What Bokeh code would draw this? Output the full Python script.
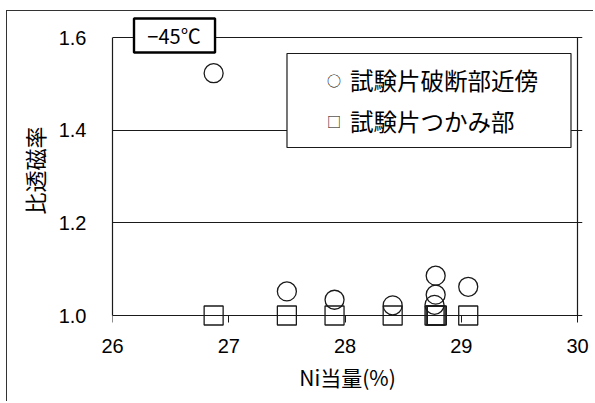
from bokeh.plotting import figure
from bokeh.models import Range1d, FixedTicker, Label, BoxAnnotation, LinearAxis
from bokeh.embed import file_html
from bokeh.resources import INLINE

# data
near_x = [26.87, 27.50, 27.91, 28.41, 28.78, 28.78, 28.77, 29.06]
near_y = [1.523, 1.052, 1.034, 1.022, 1.086, 1.045, 1.023, 1.062]
grip_x = [26.87, 27.50, 27.91, 28.41, 28.77, 28.78, 28.79, 29.06]
grip_y = [1.0, 1.0, 1.0, 1.0, 1.0, 1.0, 1.0, 1.0]
x_ticks = [26, 27, 28, 29, 30]
y_ticks = [1.0, 1.2, 1.4, 1.6]
x_title = "Ni当量(%)"
y_title = "比透磁率"
legend_near = "試験片破断部近傍"
legend_grip = "試験片つかみ部"
temp_label = "−45℃"

INK = "#1a1a1a"
CJK = "Noto Sans CJK JP"
X0, X1 = 26, 30
Y0, Y1 = 1.0, 1.6

p = figure(width=587, height=391, output_backend="svg", toolbar_location=None,
           x_range=Range1d(26, 30.043), y_range=Range1d(0.97626, 1.6497),
           min_border_left=105, min_border_right=12, min_border_top=3, min_border_bottom=76,
           styles={"margin-left": "6px", "margin-top": "10px",
                   "border-left": "1.5px solid #333333", "border-top": "1.5px solid #333333"})
p.background_fill_color = "white"
p.border_fill_color = "white"
p.outline_line_color = None

for ax in (p.xaxis[0], p.yaxis[0]):
    ax.axis_line_color = INK
    ax.axis_line_width = 1.2
    ax.major_tick_line_color = INK
    ax.major_tick_line_width = 1
    ax.major_tick_in = 7
    ax.major_tick_out = 0
    ax.minor_tick_line_color = None
    ax.major_label_text_font = "Liberation Sans"
    ax.major_label_text_font_size = "20px"
    ax.major_label_text_color = "black"
    ax.axis_label_text_font = CJK
    ax.axis_label_text_font_style = "normal"
    ax.axis_label_text_color = "black"

# bottom axis: tick labels and title only (sits at the frame bottom, just under y=1.0)
p.xaxis.ticker = FixedTicker(ticks=x_ticks)
p.xaxis.axis_line_color = None
p.xaxis.major_tick_line_color = None
p.xaxis.axis_label = x_title
p.xaxis.axis_label_text_font_size = "21px"
p.xaxis.major_label_standoff = 12
p.xaxis.axis_label_standoff = 6

p.yaxis.ticker = FixedTicker(ticks=y_ticks)
p.yaxis.major_label_overrides = {v: f"{v:.1f}" for v in y_ticks}
p.yaxis.major_tick_line_color = None
p.yaxis.bounds = (Y0, Y1)
p.yaxis.axis_label = y_title
p.yaxis.axis_label_text_font_size = "22px"
p.yaxis.major_label_standoff = 26
p.yaxis.axis_label_standoff = 6

# x axis line with inward ticks, drawn at y = 1.0
xline = LinearAxis(fixed_location=Y0, bounds=(X0, X1), ticker=FixedTicker(ticks=x_ticks),
                   axis_line_color=INK, axis_line_width=1.2,
                   major_tick_line_color=INK, major_tick_in=7, major_tick_out=0,
                   minor_tick_line_color=None, major_label_standoff=0,
                   major_label_text_font_size="0px", major_label_text_color=None)
p.add_layout(xline, "above")

# right frame edge
right = LinearAxis(fixed_location=X1, bounds=(Y0, Y1), ticker=FixedTicker(ticks=[]),
                   axis_line_color=INK, axis_line_width=1.2,
                   major_tick_line_color=None, minor_tick_line_color=None,
                   major_label_text_font_size="0px")
p.add_layout(right, "right")

p.xgrid.grid_line_color = None
p.ygrid.grid_line_color = INK
p.ygrid.grid_line_width = 1.0
p.ygrid.bounds = (X0, X1)

p.scatter(grip_x, grip_y, marker="square", size=19, fill_alpha=0,
          line_color=INK, line_width=1.3)
p.scatter(near_x, near_y, marker="circle", size=19, fill_alpha=0,
          line_color=INK, line_width=1.3)

# legend box (text-style legend as in the original)
p.add_layout(BoxAnnotation(left=27.501, right=29.944, top=1.5655, bottom=1.3626,
                           fill_color="white", fill_alpha=1.0,
                           line_color=INK, line_alpha=1.0, line_width=1.2))
for yy, sym, txt in ((1.5085, "○", legend_near), (1.4200, "□", legend_grip)):
    p.add_layout(Label(x=27.845, y=yy, text=sym, text_font=CJK, text_font_size="14px",
                       text_baseline="middle", text_align="left", text_color="black"))
    p.add_layout(Label(x=28.043, y=yy, text=txt, text_font=CJK, text_font_size="23.5px",
                       text_baseline="middle", text_align="left", text_color="black"))

# temperature tag straddling the top frame line
p.add_layout(BoxAnnotation(left=26.185, right=26.882, top=1.641, bottom=1.5677,
                           fill_color="white", fill_alpha=1.0,
                           line_color="black", line_alpha=1.0, line_width=2.4))
p.add_layout(Label(x=26.529, y=1.6044, text=temp_label, text_font=CJK, text_font_size="20px",
                   text_baseline="middle", text_align="center", text_color="black"))

open("out.html", "w").write(file_html(p, INLINE))
